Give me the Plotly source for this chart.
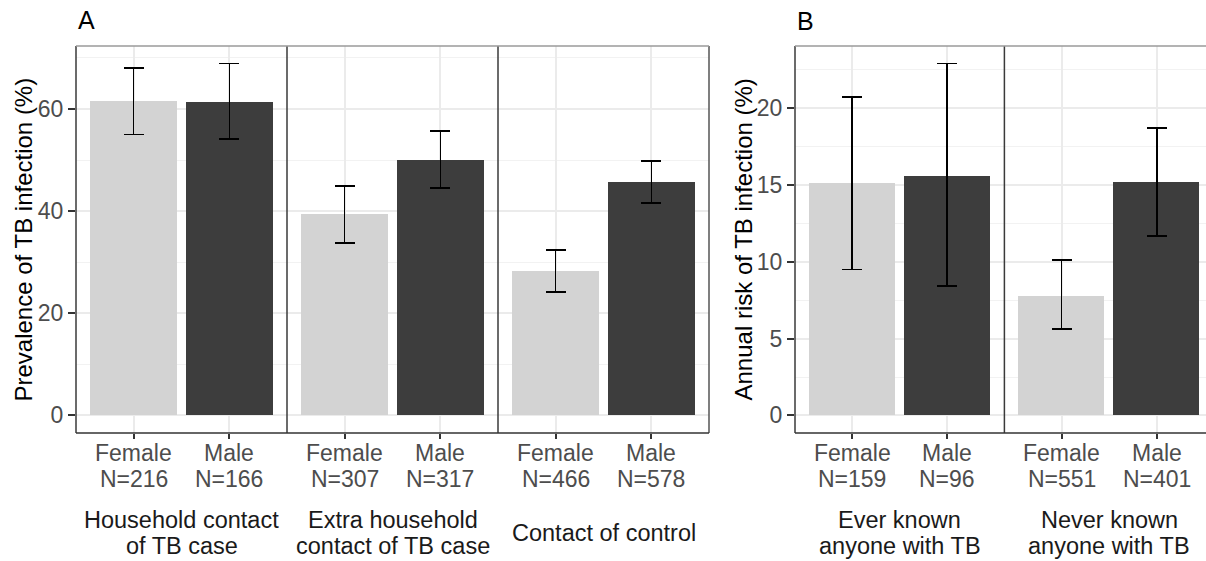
import plotly.graph_objects as go

W, H = 1206, 561

# ---------------- data ----------------
sexes = ["Female", "Male"]

a_groups = ["Household contact\nof TB case", "Extra household\ncontact of TB case", "Contact of control"]
a_n = [[216, 166], [307, 317], [466, 578]]
a_prev = [[61.6, 61.4], [39.4, 50.1], [28.3, 45.7]]
a_lo = [[55.0, 54.1], [33.8, 44.6], [24.2, 41.6]]
a_hi = [[68.0, 68.9], [44.9, 55.7], [32.4, 49.8]]

b_groups = ["Ever known\nanyone with TB", "Never known\nanyone with TB"]
b_n = [[159, 96], [551, 401]]
b_arti = [[15.1, 15.6], [7.8, 15.2]]
b_lo = [[9.5, 8.4], [5.6, 11.7]]
b_hi = [[20.7, 22.9], [10.1, 18.7]]

a_title = "Prevalence of TB infection (%)"
b_title = "Annual risk of TB infection (%)"
a_yticks = [0, 20, 40, 60]
b_yticks = [0, 5, 10, 15, 20]

colors = ["#d3d3d3", "#3d3d3d"]

# ---------------- layout helpers ----------------
def px(x):
    return x / W

def py(y):
    return 1 - y / H

TOP, BOT = 46, 433
a_edges = [76, 287, 498, 709]
b_edges = [795, 1004.4, 1213.8]
FONT = "Liberation Sans, Arial, Helvetica, sans-serif"

fig = go.Figure()
layout = dict(
    width=W, height=H,
    margin=dict(l=0, r=0, t=0, b=0),
    paper_bgcolor="white", plot_bgcolor="white",
    showlegend=False,
    font=dict(family=FONT, color="#4d4d4d"),
    bargap=0,
)

annotations = []
shapes = []

def add_panel(groups, ns, vals, los, his, edges, yname, ax_offset, yticks, ydtick_minor):
    ymax = max(max(h) for h in his)
    yrange = [-0.05 * ymax, ymax * 1.05]
    for gi, g in enumerate(groups):
        k = ax_offset + gi
        xname = "x" if k == 1 else f"x{k}"
        xkey = "xaxis" if k == 1 else f"xaxis{k}"
        x0, x1 = edges[gi], edges[gi + 1]
        unit = (x1 - x0) / 2.2
        xr = [-0.6, 1.6]
        d1 = x1
        if x1 > W:
            xr = [-0.6, 1.6 - (x1 - W) / unit]
            d1 = W
        fig.add_trace(go.Bar(
            x=sexes, y=vals[gi], width=0.9,
            marker=dict(color=colors, line=dict(width=0)),
            error_y=dict(type="data", symmetric=False,
                         array=[h - v for h, v in zip(his[gi], vals[gi])],
                         arrayminus=[v - l for v, l in zip(vals[gi], los[gi])],
                         color="black", thickness=1.8, width=10),
            xaxis=xname, yaxis=yname, hoverinfo="skip",
        ))
        layout[xkey] = dict(
            domain=[px(x0), px(d1)], anchor=yname, type="category",
            categoryorder="array", categoryarray=sexes, range=xr,
            showgrid=True, gridcolor="#ebebeb", gridwidth=1.6,
            showline=False, zeroline=False, showticklabels=False,
            ticks="outside", ticklen=5, tickwidth=1.5, tickcolor="#333333",
            fixedrange=True,
        )
        # tick labels (two lines)
        for si, s in enumerate(sexes):
            annotations.append(dict(x=s, xref=xname, y=py(452.5), yref="paper",
                                    text=s, showarrow=False, xanchor="center", yanchor="middle",
                                    font=dict(size=23, color="#4d4d4d", family=FONT)))
            annotations.append(dict(x=s, xref=xname, y=py(478.5), yref="paper",
                                    text=f"N={ns[gi][si]}", showarrow=False,
                                    xanchor="center", yanchor="middle",
                                    font=dict(size=23, color="#4d4d4d", family=FONT)))
        # strip labels
        lines = g.split("\n")
        ys = [520, 545.5] if len(lines) == 2 else [533]
        for line, yy in zip(lines, ys):
            annotations.append(dict(x=(x0 + x1) / 2 / W, xref="paper", y=py(yy), yref="paper",
                                    text=line, showarrow=False, xanchor="center", yanchor="middle",
                                    font=dict(size=23.5, color="#1a1a1a", family=FONT)))
        # vertical border / divider
        shapes.append(dict(type="line", xref="paper", yref="paper",
                           x0=px(x0), x1=px(x0), y0=py(BOT), y1=py(TOP),
                           line=dict(color="#3a3a3a", width=1.5)))
    if edges[-1] <= W:
        shapes.append(dict(type="line", xref="paper", yref="paper",
                           x0=px(edges[-1]), x1=px(edges[-1]), y0=py(BOT), y1=py(TOP),
                           line=dict(color="#555555", width=1.5)))
    right = min(edges[-1], W)
    shapes.append(dict(type="line", xref="paper", yref="paper",
                       x0=px(edges[0]), x1=px(right), y0=py(TOP), y1=py(TOP),
                       line=dict(color="#9a9a9a", width=1.5)))
    shapes.append(dict(type="line", xref="paper", yref="paper",
                       x0=px(edges[0]), x1=px(right), y0=py(BOT), y1=py(BOT),
                       line=dict(color="#333333", width=1.5)))
    ykey = "yaxis" if yname == "y" else "yaxis" + yname[1:]
    layout[ykey] = dict(
        domain=[py(BOT), py(TOP)], anchor="x" if ax_offset == 1 else f"x{ax_offset}",
        range=yrange, tickmode="array", tickvals=yticks, ticktext=[str(t) for t in yticks],
        showgrid=True, gridcolor="#ebebeb", gridwidth=1.6,
        minor=dict(dtick=ydtick_minor, tick0=0, showgrid=True, gridcolor="#f2f2f2", gridwidth=1),
        zeroline=False, showline=False,
        ticks="outside", ticklen=7, tickwidth=1.5, tickcolor="#333333",
        tickfont=dict(size=23, color="#4d4d4d", family=FONT),
        fixedrange=True,
    )

add_panel(a_groups, a_n, a_prev, a_lo, a_hi, a_edges, "y", 1, a_yticks, 10)
add_panel(b_groups, b_n, b_arti, b_lo, b_hi, b_edges, "y2", 4, b_yticks, 2.5)

# axis titles
annotations.append(dict(x=px(23), y=py((TOP + BOT) / 2), xref="paper", yref="paper",
                        text=a_title, textangle=-90, showarrow=False,
                        xanchor="center", yanchor="middle",
                        font=dict(size=24, color="black", family=FONT)))
annotations.append(dict(x=px(743), y=py((TOP + BOT) / 2), xref="paper", yref="paper",
                        text=b_title, textangle=-90, showarrow=False,
                        xanchor="center", yanchor="middle",
                        font=dict(size=24, color="black", family=FONT)))
# panel tags
annotations.append(dict(x=px(76), y=py(20), xref="paper", yref="paper", text="A",
                        showarrow=False, xanchor="left", yanchor="middle",
                        font=dict(size=25, color="black", family=FONT)))
annotations.append(dict(x=px(795), y=py(21), xref="paper", yref="paper", text="B",
                        showarrow=False, xanchor="left", yanchor="middle",
                        font=dict(size=25, color="black", family=FONT)))

layout["annotations"] = annotations
layout["shapes"] = shapes
fig.update_layout(**layout)
fig.write_html(
    "out.html",
    config={"displayModeBar": False, "staticPlot": False},
    post_script="document.body.style.margin='0';document.body.style.padding='0';",
)
